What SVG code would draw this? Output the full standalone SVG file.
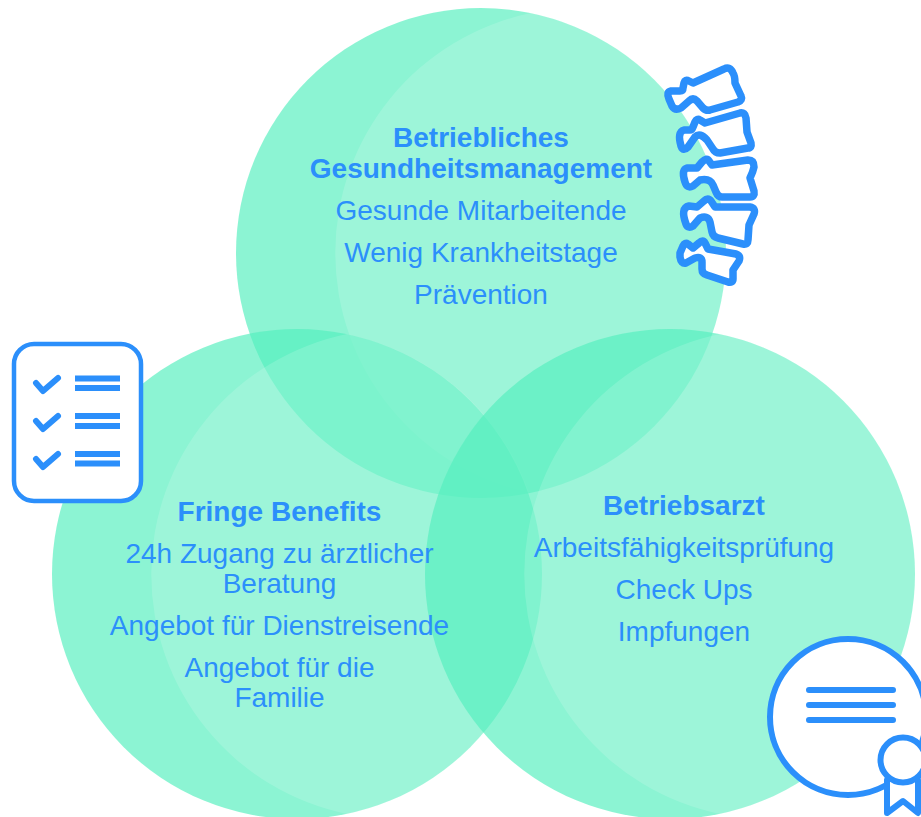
<svg xmlns="http://www.w3.org/2000/svg" width="921" height="817" viewBox="0 0 921 817">
<style>
.c{fill:#53efbd;fill-opacity:.67}
.l{fill:#fff;fill-opacity:.148}
text{font-family:"Liberation Sans",Arial,sans-serif;font-size:28px;fill:#2b8ffb;text-anchor:middle}
.b{font-weight:bold}
.i{fill:#fff;stroke:#2b8ffb;stroke-width:7.500;stroke-linejoin:round;stroke-linecap:round}
.o{fill:#fff;stroke:#2b8ffb;stroke-width:6}
.t{fill:#fff;stroke:#2b8ffb;stroke-width:6;stroke-linejoin:round;stroke-linecap:round}
.n{fill:none;stroke:#2b8ffb;stroke-linejoin:round;stroke-linecap:round}
.s{fill:none;stroke:#2b8ffb;stroke-width:6}
</style>
<rect width="921" height="817" fill="#fff"/>
<g id="node-top">
<circle class="c" cx="481" cy="253" r="245"/>
<path class="l" d="M531 13A245 245 0 0 0 531 493A245 245 0 0 0 531 13Z"/>
</g>
<g id="node-left">
<circle class="c" cx="297" cy="574" r="245"/>
<path class="l" d="M347 334A245 245 0 0 0 347 814A245 245 0 0 0 347 334Z"/>
</g>
<g id="node-right">
<circle class="c" cx="670" cy="574" r="245"/>
<path class="l" d="M720 334A245 245 0 0 0 720 814A245 245 0 0 0 720 334Z"/>
</g>
<g id="label-top">
<text class="b" x="481" y="147">Betriebliches</text>
<text class="b" x="481" y="178">Gesundheitsmanagement</text>
<text x="481" y="220">Gesunde Mitarbeitende</text>
<text x="481" y="262">Wenig Krankheitstage</text>
<text x="481" y="304">Prävention</text>
</g>
<g id="label-left">
<text class="b" x="279.500" y="521">Fringe Benefits</text>
<text x="279.500" y="563">24h Zugang zu ärztlicher</text>
<text x="279.500" y="593">Beratung</text>
<text x="279.500" y="635">Angebot für Dienstreisende</text>
<text x="279.500" y="677">Angebot für die</text>
<text x="279.500" y="707">Familie</text>
</g>
<g id="label-right">
<text class="b" x="684" y="515">Betriebsarzt</text>
<text x="684" y="557">Arbeitsfähigkeitsprüfung</text>
<text x="684" y="599">Check Ups</text>
<text x="684" y="641">Impfungen</text>
</g>
<g id="icon-spine">
<path class="i" d="M671 91L680 91Q683 91 683 88L684 83Q685 79 689 81L693 83L724 69Q730 66 733 73Q735 76 735 83L741 96Q743 100 738 102L710 110Q706 111 703 108L697 101Q693 97 689 101L681 108Q675 111 672 106L669 99Q666 92 671 91Z"/>
<path class="i" d="M684 130L690 130Q692 130 693 127L695 122Q697 118 700 120L705 123L740 113Q745 112 746 118L747 132L751 143Q752 148 748 148L720 153Q715 153 713 149L707 140Q700 132 695 137L688 147Q683 152 681 146Q677 132 684 130Z"/>
<path class="i" d="M687 168L697 168L702 162Q707 157 709 161L712 165L748 160Q754 160 754 167Q753 172 750 178L754 191Q755 197 750 197L722 197Q718 197 716 192L713 185Q710 178 700 180L693 186Q687 189 685 182Q681 170 687 168Z"/>
<path class="i" d="M689 206L697 207L704 201Q708 197 711 201L715 207L750 207Q756 208 754 214L749 225L748 240Q748 245 743 244L718 238Q713 237 712 232L710 222Q708 215 700 218L693 226Q688 229 686 224Q680 208 689 206Z"/>
<path class="i" d="M680 253L683 246Q685 242 688 244L693 248L699 243Q703 239 705 243L708 249L736 254Q741 256 739 261L733 270L733 279Q733 283 728 282L707 275Q702 274 702 269L702 262Q702 256 695 258L686 263Q681 264 680 257Z"/>
</g>
<g id="icon-checklist">
<rect x="14" y="344" width="127" height="157" rx="20" fill="#fff" stroke="#2b8ffb" stroke-width="4.500"/>
<path class="n" stroke-width="6" d="M36 383L43 391L58 378M36 421L43 429L58 416M36 459L43 467L58 454"/>
<path class="s" d="M75 378.500H120M75 388H120M75 416H120M75 426H120M75 454H120M75 463.500H120"/>
</g>
<g id="icon-certificate">
<circle class="o" cx="848" cy="717" r="78"/>
<path class="n" stroke-width="6" d="M809 690H893M809 705H893M809 720H893"/>
<path class="t" d="M887 780V813L903 801L918 813V780"/>
<circle class="t" cx="903" cy="760" r="22.500"/>
</g>
</svg>
